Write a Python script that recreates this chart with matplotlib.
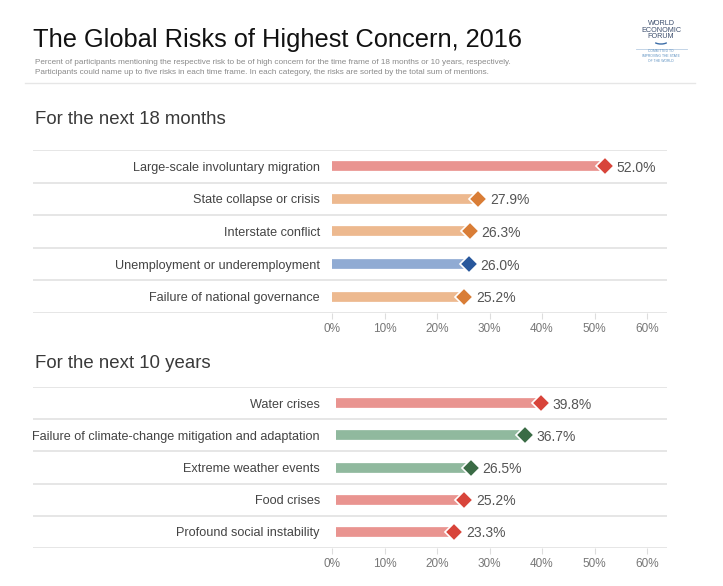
import matplotlib.pyplot as plt
from matplotlib.patches import Arc

plt.rcParams['font.family'] = ['Liberation Sans', 'DejaVu Sans']

# datos
riesgos_18m = ["Large-scale involuntary migration", "State collapse or crisis",
               "Interstate conflict", "Unemployment or underemployment",
               "Failure of national governance"]
valores_18m = [52.0, 27.9, 26.3, 26.0, 25.2]
tipo_18m = ["social", "geo", "geo", "eco", "geo"]

riesgos_10a = ["Water crises", "Failure of climate-change mitigation and adaptation",
               "Extreme weather events", "Food crises", "Profound social instability"]
valores_10a = [39.8, 36.7, 26.5, 25.2, 23.3]
tipo_10a = ["social", "env", "env", "social", "social"]

ticks = [0, 10, 20, 30, 40, 50, 60]

# colores (barra, rombo)
colores = {
    "social": ("#e99490", "#d8443a"),
    "geo": ("#edb98f", "#d97d36"),
    "eco": ("#90abd3", "#27579c"),
    "env": ("#90b99e", "#3a6b45"),
}

W, H = 723, 586
fig = plt.figure(figsize=(W / 100, H / 100), dpi=100)

# titulo y subtitulo
fig.text(33 / W, 1 - 40 / H, "The Global Risks of Highest Concern, 2016",
         fontsize=18.3, color="#111111", va="center", ha="left")
fig.text(35 / W, 1 - 62 / H,
         "Percent of participants mentioning the respective risk to be of high concern for the time frame of 18 months or 10 years, respectively.",
         fontsize=5.9, color="#8a8a8a", va="center")
fig.text(35 / W, 1 - 73 / H,
         "Participants could name up to five risks in each time frame. In each category, the risks are sorted by the total sum of mentions.",
         fontsize=5.9, color="#8a8a8a", va="center")
fig.add_artist(plt.Line2D([25 / W, 695 / W], [1 - 83 / H, 1 - 83 / H],
                          color="#e6e6e6", lw=1))

# logo WEF (solo texto)
fig.text(661 / W, 1 - 30 / H, "WORLD\nECONOMIC\nFORUM", fontsize=5.2,
         color="#3d4f6e", ha="center", va="center", linespacing=0.95)
fig.add_artist(Arc((661 / W, 1 - 41 / H), 14 / W, 6 / H, theta1=200, theta2=340,
                   color="#3d6ea8", lw=1, transform=fig.transFigure))
fig.add_artist(plt.Line2D([636 / W, 687 / W], [1 - 49 / H, 1 - 49 / H], color="#b9cde3", lw=0.6))
fig.text(661 / W, 1 - 56 / H, "COMMITTED TO\nIMPROVING THE STATE\nOF THE WORLD",
         fontsize=2.4, color="#5a8fc0", ha="center", va="center")

x0, x1 = 33, 667
px = 10 / 52.5  # % por pixel
xmin = -(332 - x0) * px
xmax = (x1 - 332) * px


def panel(top, bottom, titulo, y_titulo, riesgos, valores, tipos, x_inicio):
    ax = fig.add_axes([x0 / W, 1 - bottom / H, (x1 - x0) / W, (bottom - top) / H])
    n = len(riesgos)
    for i in range(n):
        cb, cm = colores[tipos[i]]
        ax.plot([x_inicio, valores[i]], [i, i], color=cb, lw=7, solid_capstyle="butt", zorder=2)
        ax.plot(valores[i], i, marker="D", ms=9, color=cm, mec="white", mew=1.2, zorder=3)
        ax.text(valores[i] + 2.2, i, f"{valores[i]:.1f}%", va="center_baseline", ha="left",
                fontsize=10, color="#555555")
        ax.text(-2.3, i, riesgos[i], va="center_baseline", ha="right", fontsize=9.1, color="#444444")
    for k in range(n + 1):
        ax.axhline(k - 0.5, color="#e6e6e6", lw=1.4, zorder=1)
    ax.set_xlim(xmin, xmax)
    ax.set_ylim(n - 0.5, -0.5)
    ax.set_yticks([])
    ax.set_xticks(ticks)
    ax.set_xticklabels([f"{t}%" for t in ticks])
    ax.tick_params(axis="x", length=4, color="#dddddd", labelsize=8.5,
                   labelcolor="#777777", pad=3.5)
    for s in ax.spines.values():
        s.set_visible(False)
    fig.text(35 / W, 1 - y_titulo / H, titulo, fontsize=13.4, color="#3a3a3a",
             va="center", ha="left")
    return ax


panel(150, 313, "For the next 18 months", 120, riesgos_18m, valores_18m, tipo_18m, 0)
panel(387, 548, "For the next 10 years", 364, riesgos_10a, valores_10a, tipo_10a, 0.7)

fig.savefig("out.png", dpi=100, facecolor="white")
